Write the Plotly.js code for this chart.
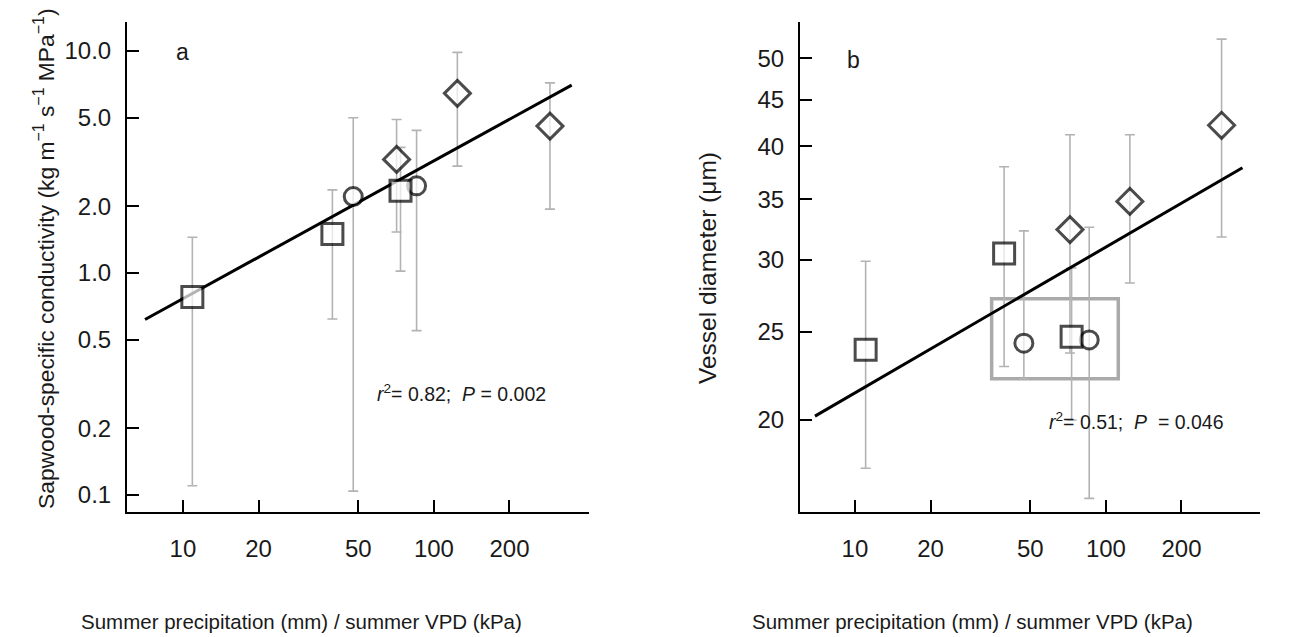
<!DOCTYPE html>
<html><head><meta charset="utf-8">
<script src="https://cdn.plot.ly/plotly-3.0.1.min.js"></script>
<style>html,body{margin:0;padding:0;background:#fff;}#chart{width:1313px;height:637px;}</style>
</head><body><div id="chart"></div>
<script>
// Order: circles first, then squares, then diamonds (draw order)
const symbols = ['circle','circle','square','square','square','diamond','diamond','diamond'];

// Panel a: sapwood-specific conductivity
const xA = [47.7, 85.3, 10.9, 39.4, 73.6, 71.0, 124, 290];
const yA = [2.21, 2.47, 0.78, 1.50, 2.35, 3.25, 6.45, 4.59];
const errUpA = [2.80, 1.92, 0.67, 0.87, 1.33, 1.67, 3.42, 2.60];
const errDownA = [2.106, 1.92, 0.67, 0.88, 1.33, 1.72, 3.42, 2.65];
const fitXA = [7.06, 354];
const fitYA = [0.617, 7.02];

// Panel b: vessel diameter
const xB = [47.1, 85.8, 11.03, 39.3, 73.0, 71.9, 124.6, 289];
const yB = [24.3, 24.5, 23.9, 30.5, 24.7, 32.4, 34.8, 42.2];
const errUpB = [8.0, 8.1, 6.0, 7.5, 4.7, 8.8, 6.4, 10.3];
const errDownB = [2.1, 8.1, 6.2, 7.6, 4.7, 8.7, 6.5, 10.4];
const fitXB = [6.93, 350];
const fitYB = [20.2, 37.9];

const xTicks = [10, 20, 50, 100, 200];
const xTickText = ['10', '20', '50', '100', '200'];
const yTicksA = [0.1, 0.2, 0.5, 1, 2, 5, 10];
const yTickTextA = ['0.1', '0.2', '0.5', '1.0', '2.0', '5.0', '10.0'];
const yTicksB = [20, 25, 30, 35, 40, 45, 50];
const yTickTextB = ['20', '25', '30', '35', '40', '45', '50'];

const W = 1313, H = 637;
const px = v => v / W;
const py = v => 1 - v / H;
const FONT = 'Liberation Sans, Arial, sans-serif';
const GRAY = '#b3b3b3';
const TXT = '#1a1a1a';

function errTrace(x, y, up, down, xa, ya) {
  return {x, y, xaxis: xa, yaxis: ya, type: 'scatter', mode: 'markers',
    marker: {size: 1, opacity: 0}, hoverinfo: 'skip', showlegend: false,
    error_y: {type: 'data', symmetric: false, array: up, arrayminus: down,
      color: GRAY, thickness: 1.6, width: 5}};
}
function fitTrace(x, y, xa, ya) {
  return {x, y, xaxis: xa, yaxis: ya, type: 'scatter', mode: 'lines',
    line: {color: '#000', width: 3}, showlegend: false, hoverinfo: 'skip'};
}
function markTrace(x, y, xa, ya) {
  const sizes = symbols.map(s => s === 'square' ? 21 : (s === 'diamond' ? 20 : 18));
  return {x, y, xaxis: xa, yaxis: ya, type: 'scatter', mode: 'markers',
    marker: {symbol: symbols, size: sizes, color: '#fff', line: {color: '#000', width: 3}},
    showlegend: false};
}

const data = [
  errTrace(xA, yA, errUpA, errDownA, 'x', 'y'),
  fitTrace(fitXA, fitYA, 'x', 'y'),
  markTrace(xA, yA, 'x', 'y'),
  errTrace(xB, yB, errUpB, errDownB, 'x2', 'y2'),
  fitTrace(fitXB, fitYB, 'x2', 'y2'),
  markTrace(xB, yB, 'x2', 'y2')
];

const axisCommon = {
  type: 'log', showgrid: false, zeroline: false, showline: true,
  linecolor: '#000', linewidth: 2, ticks: 'inside', ticklen: 12, tickwidth: 2,
  tickcolor: '#000', tickfont: {family: FONT, size: 24, color: TXT}, tickmode: 'array'
};

function ann(text, x, y, size, extra) {
  return Object.assign({text, xref: 'paper', yref: 'paper', x: px(x), y: py(y),
    xanchor: 'center', yanchor: 'middle', showarrow: false,
    font: {family: FONT, size, color: TXT}}, extra || {});
}

const layout = {
  width: W, height: H, margin: {l: 0, r: 0, t: 0, b: 0},
  paper_bgcolor: '#fff', plot_bgcolor: 'rgba(0,0,0,0)', showlegend: false,
  font: {family: FONT, color: TXT},
  xaxis: Object.assign({}, axisCommon, {domain: [px(127), px(589)], range: [0.777, 2.618],
    tickvals: xTicks, ticktext: xTickText, anchor: 'y', ticklabelstandoff: 14}),
  yaxis: Object.assign({}, axisCommon, {domain: [py(512), py(22)], range: [-1.077, 1.131],
    tickvals: yTicksA, ticktext: yTickTextA, anchor: 'x', ticklabelstandoff: 9}),
  xaxis2: Object.assign({}, axisCommon, {domain: [px(800), px(1260)], range: [0.781, 2.614],
    tickvals: xTicks, ticktext: xTickText, anchor: 'y2', ticklabelstandoff: 14}),
  yaxis2: Object.assign({}, axisCommon, {domain: [py(512), py(22)], range: [1.1998, 1.739],
    tickvals: yTicksB, ticktext: yTickTextB, anchor: 'x2', ticklabelstandoff: 9}),
  shapes: [{type: 'rect', xref: 'x2', yref: 'y2', x0: 35.05, x1: 112, y0: 22.2, y1: 27.2,
    line: {color: '#aaaaaa', width: 3.5}, fillcolor: 'rgba(0,0,0,0)', layer: 'below'}],
  annotations: [
    ann('a', 182, 52, 23),
    ann('b', 853, 60, 23),
    ann('<i>r</i><sup>2</sup>= 0.82;&nbsp; <i>P</i> = 0.002', 375, 393, 19.5, {xanchor: 'left'}),
    ann('<i>r</i><sup>2</sup>= 0.51;&nbsp; <i>P</i> &nbsp;= 0.046', 1047, 421, 19.5, {xanchor: 'left'}),
    ann('Sapwood-specific conductivity (kg m<sup>−1</sup> s<sup>−1</sup> MPa<sup>−1</sup>)',
      44, 259, 22.8, {textangle: -90}),
    ann('Vessel diameter (μm)', 707, 268, 24.5, {textangle: -90}),
    ann('Summer precipitation (mm) / summer VPD (kPa)', 301, 621, 20.5),
    ann('Summer precipitation (mm) / summer VPD (kPa)', 973, 621, 20.5)
  ]
};

Plotly.newPlot('chart', data, layout, {displayModeBar: false, staticPlot: true});
</script>
</body></html>
